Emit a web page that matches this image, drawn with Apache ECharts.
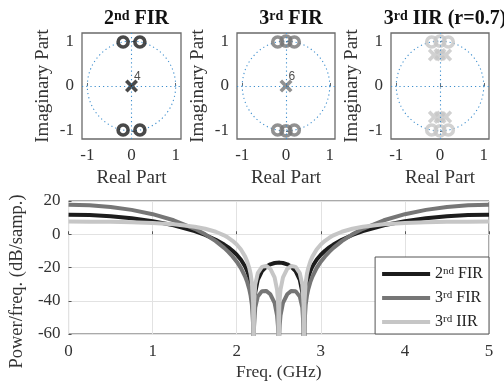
<!DOCTYPE html>
<html><head><meta charset="utf-8">
<script src="https://cdn.jsdelivr.net/npm/echarts@6/dist/echarts.min.js"></script>
<style>html,body{margin:0;padding:0;background:#fff}#c{width:504px;height:385px}</style>
</head><body><div id="c"></div>
<script>
// ---------- spectrum data ----------
const freqGHz = [0, 0.25, 0.5, 0.75, 1.0, 1.25, 1.5, 1.625, 1.75, 1.85, 1.9, 1.95, 2.0, 2.05, 2.1, 2.125, 2.15, 2.165, 2.18, 2.195, 2.2, 2.205, 2.22, 2.25, 2.3, 2.35, 2.4, 2.45, 2.48, 2.49, 2.495, 2.5,
  2.505, 2.51, 2.52, 2.55, 2.6, 2.65, 2.7, 2.75, 2.78, 2.795, 2.8, 2.805, 2.82, 2.835, 2.85, 2.875, 2.9, 2.95, 3.0, 3.05, 3.1, 3.15, 3.25, 3.375, 3.5, 3.75, 4.0, 4.25, 4.5, 4.75, 5.0];
const fir2dB = [11.73, 11.51, 10.83, 9.64, 7.88, 5.39, 1.88, -0.43, -3.30, -6.19, -7.92, -9.94, -12.34, -15.35, -19.42, -22.21, -26.04, -29.33, -34.38, -46.4, -100, -47.0, -34.94, -27.42, -22.20, -19.58, -18.08, -17.30, -17.09, -17.06, -17.05, -17.05,
  -17.05, -17.06, -17.09, -17.30, -18.08, -19.58, -22.20, -27.42, -34.94, -47.0, -100, -46.4, -34.38, -29.33, -26.04, -22.21, -19.42, -15.35, -12.34, -9.94, -7.92, -6.19, -3.30, -0.43, 1.88, 5.39, 7.88, 9.64, 10.83, 11.51, 11.73];
const fir3dB = [17.75, 17.42, 16.41, 14.66, 12.06, 8.40, 3.28, -0.05, -4.14, -8.19, -10.58, -13.32, -16.52, -20.41, -25.48, -28.82, -33.24, -36.91, -42.35, -54.4, -100, -56.1, -44.06, -37.51, -34.22, -34.08, -36.11, -41.34, -49.0, -55.1, -61.0, -100,
  -61.0, -55.1, -49.0, -41.34, -36.11, -34.08, -34.22, -37.51, -44.06, -56.1, -100, -54.4, -42.35, -36.91, -33.24, -28.82, -25.48, -20.41, -16.52, -13.32, -10.58, -8.19, -4.14, -0.05, 3.28, 8.40, 12.06, 14.66, 16.41, 17.42, 17.75];
const iir3dB = [7.63, 7.59, 7.46, 7.20, 6.76, 5.98, 4.53, 3.31, 1.50, -0.66, -2.11, -3.92, -6.21, -9.22, -13.47, -16.42, -20.46, -23.76, -29.15, -41.2, -100, -42.4, -30.33, -23.44, -19.64, -19.10, -20.84, -25.89, -33.5, -39.6, -45.6, -100,
  -45.6, -39.6, -33.5, -25.89, -20.84, -19.10, -19.64, -23.44, -30.33, -42.4, -100, -41.2, -29.15, -23.76, -20.46, -16.42, -13.47, -9.22, -6.21, -3.92, -2.11, -0.66, 1.50, 3.31, 4.53, 5.98, 6.76, 7.20, 7.46, 7.59, 7.63];
const seriesNames = ['2nd FIR', '3rd FIR', '3rd IIR'];
const freqTicks = [0, 1, 2, 3, 4, 5];
const psdTicks = [-60, -40, -20, 0, 20];

// ---------- pole-zero data ----------
const pzTicks = [-1, 0, 1];
const unitRadius = 1;
const fir2Zeros = [[-0.19, 0.98], [0.19, 0.98], [-0.19, -0.98], [0.19, -0.98]];
const fir2Poles = [[0, 0]];
const fir2PoleCount = 4;
const fir3Zeros = [[-0.19, 0.98], [0, 1], [0.19, 0.98], [-0.19, -0.98], [0, -1], [0.19, -0.98]];
const fir3Poles = [[0, 0]];
const fir3PoleCount = 6;
const iir3Zeros = [[-0.19, 0.98], [0, 1], [0.19, 0.98], [-0.19, -0.98], [0, -1], [0.19, -0.98]];
const iir3Poles = [[-0.13, 0.69], [0, 0.7], [0.13, 0.69], [-0.13, -0.69], [0, -0.7], [0.13, -0.69]];

// ---------- styling ----------
const SERIF = 'Liberation Serif';
const colors = ['#1c1c1c', '#767676', '#c6c6c6'];
const dotBlue = '#3f8fce';
const xMark = 'path://M0,2 L2,0 L5,3 L8,0 L10,2 L7,5 L10,8 L8,10 L5,7 L2,10 L0,8 L3,5 Z';

const panels = [
  { left: 82, width: 99, title: '{t|2}{s|nd}{t| FIR}', zeros: fir2Zeros, poles: fir2Poles, count: fir2PoleCount, color: colors[0] },
  { left: 237, width: 98, title: '{t|3}{s|rd}{t| FIR}', zeros: fir3Zeros, poles: fir3Poles, count: fir3PoleCount, color: colors[1] },
  { left: 391, width: 98, title: '{t|3}{s|rd}{t| IIR (r=0.7)}', zeros: iir3Zeros, poles: iir3Poles, count: null, color: colors[2] }
];

// unit circle reference
const circle = [];
for (let i = 0; i <= 120; i++) {
  const a = i / 120 * 2 * Math.PI;
  circle.push([unitRadius * Math.cos(a), unitRadius * Math.sin(a)]);
}

const grid = [], xAxis = [], yAxis = [], series = [], title = [];
const dotted = { color: dotBlue, width: 1.1, type: [1.2, 3] };

panels.forEach((p, i) => {
  grid.push({ left: p.left, top: 33, width: p.width, height: 106, show: true, borderColor: '#6a6a6a', borderWidth: 1.3, backgroundColor: 'transparent' });
  xAxis.push({
    gridIndex: i, type: 'value', min: -1.12, max: 1.12,
    name: 'Real Part', nameLocation: 'middle', nameGap: 30,
    nameTextStyle: { fontFamily: SERIF, fontSize: 19, color: '#333' },
    axisLine: { show: false }, splitLine: { show: false },
    axisTick: { show: true, inside: true, length: 3, customValues: pzTicks, lineStyle: { color: '#6a6a6a' } },
    axisLabel: { customValues: pzTicks, fontFamily: SERIF, fontSize: 17, color: '#333', margin: 8 }
  });
  yAxis.push({
    gridIndex: i, type: 'value', min: -1.18, max: 1.18,
    name: 'Imaginary Part', nameLocation: 'middle', nameGap: 29,
    nameTextStyle: { fontFamily: SERIF, fontSize: 19, color: '#333' },
    axisLine: { show: false }, splitLine: { show: false },
    axisTick: { show: true, inside: true, length: 3, customValues: pzTicks, lineStyle: { color: '#6a6a6a' } },
    axisLabel: { customValues: pzTicks, fontFamily: SERIF, fontSize: 17, color: '#333', margin: 8 }
  });
  title.push({
    text: p.title, left: p.left + p.width / 2, top: 4, textAlign: 'center',
    textStyle: {
      rich: {
        t: { fontFamily: SERIF, fontSize: 20, fontWeight: 'bold', color: '#111' },
        s: { fontFamily: SERIF, fontSize: 14, fontWeight: 'bold', color: '#111', verticalAlign: 'top' }
      }
    }
  });
  series.push({
    type: 'line', xAxisIndex: i, yAxisIndex: i, data: circle, showSymbol: false, silent: true,
    lineStyle: dotted, z: 1,
    markLine: { silent: true, symbol: 'none', label: { show: false }, lineStyle: dotted, data: [{ xAxis: 0 }, { yAxis: 0 }] }
  });
  series.push({
    type: 'scatter', xAxisIndex: i, yAxisIndex: i, data: p.zeros, symbol: 'circle', symbolSize: 10, z: 3,
    itemStyle: { color: 'rgba(0,0,0,0)', borderColor: p.color, borderWidth: 3.6 }
  });
  series.push({
    type: 'scatter', xAxisIndex: i, yAxisIndex: i, data: p.poles, symbol: xMark, symbolSize: 13, z: 4,
    itemStyle: { color: p.color },
    label: p.count ? { show: true, formatter: String(p.count), position: [9, -9], fontFamily: 'Liberation Sans', fontSize: 12, color: '#222' } : { show: false }
  });
});

// bottom spectrum grid
grid.push({ left: 62, top: 201, right: 15, bottom: 51, show: true, borderColor: '#555', borderWidth: 1, backgroundColor: 'transparent' });
xAxis.push({
  gridIndex: 3, type: 'value', min: 0, max: 5, interval: 1,
  name: 'Freq. (GHz)', nameLocation: 'middle', nameGap: 29,
  nameTextStyle: { fontFamily: SERIF, fontSize: 17.5, color: '#333' },
  axisLine: { show: false },
  axisTick: { inside: true, length: 3, lineStyle: { color: '#555' } },
  axisLabel: { fontFamily: SERIF, fontSize: 17, color: '#333', margin: 9 },
  splitLine: { show: true, lineStyle: { color: '#e2e2e2', width: 1 } }
});
yAxis.push({
  gridIndex: 3, type: 'value', min: -60, max: 20, interval: 20,
  name: 'Power/freq. (dB/samp.)', nameLocation: 'middle', nameGap: 38,
  nameTextStyle: { fontFamily: SERIF, fontSize: 18.5, color: '#333', padding: [0, 28, 0, 0] },
  axisLine: { show: false },
  axisTick: { inside: true, length: 3, lineStyle: { color: '#555' } },
  axisLabel: { fontFamily: SERIF, fontSize: 17, color: '#333', margin: 8 },
  splitLine: { show: true, lineStyle: { color: '#e2e2e2', width: 1 } }
});
const spectra = [fir2dB, fir3dB, iir3dB];
spectra.forEach((vals, k) => {
  series.push({
    name: seriesNames[k], type: 'line', xAxisIndex: 3, yAxisIndex: 3, showSymbol: false, clip: true,
    data: freqGHz.map((f, j) => [f, vals[j]]), color: colors[k],
    lineStyle: { color: colors[k], width: 4 }, z: 5 + k
  });
});

const legendLabels = { '2nd FIR': '2{s|nd} FIR', '3rd FIR': '3{s|rd} FIR', '3rd IIR': '3{s|rd} IIR' };

const chart = echarts.init(document.getElementById('c'), null, { renderer: 'canvas' });
chart.setOption({
  animation: false,
  backgroundColor: '#fff',
  title, grid, xAxis, yAxis, series,
  legend: {
    data: seriesNames, orient: 'vertical', right: 15, bottom: 51,
    icon: 'rect', itemWidth: 48, itemHeight: 4, itemGap: 8,
    padding: [9, 6, 4, 7],
    backgroundColor: '#fff', borderColor: '#555', borderWidth: 1,
    formatter: n => legendLabels[n],
    textStyle: {
      fontFamily: SERIF, fontSize: 16, color: '#222',
      rich: { s: { fontFamily: SERIF, fontSize: 11, color: '#222', verticalAlign: 'top' } }
    }
  }
});
</script></body></html>
